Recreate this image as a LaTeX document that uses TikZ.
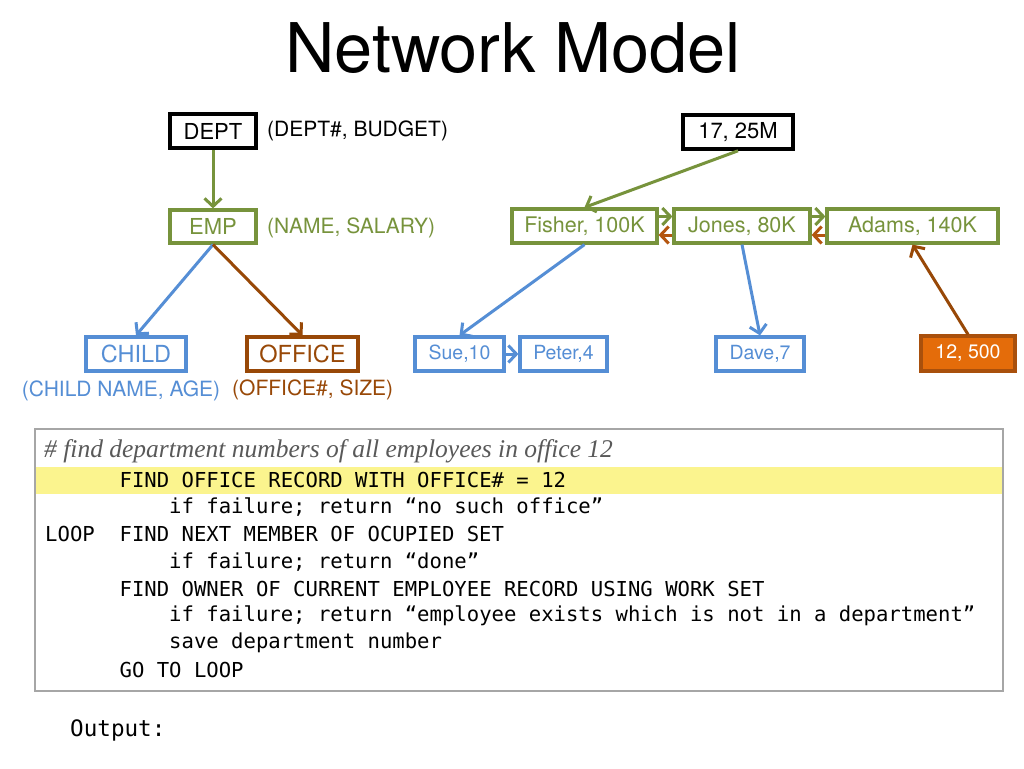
\documentclass[tikz,border=0pt]{standalone}
\usepackage{fontspec}
\setmainfont{TeX Gyre Heros}
\newfontfamily\codefont{DejaVu Sans Mono}
\newfontfamily\cmtfont{Liberation Serif}
\usetikzlibrary{arrows.meta}
\definecolor{olive}{HTML}{77933C}
\definecolor{sky}{HTML}{558ED5}
\definecolor{rust}{HTML}{984807}
\definecolor{rustl}{HTML}{B4550F}
\definecolor{orng}{HTML}{E46C0A}
\definecolor{orngb}{HTML}{A9500C}
\definecolor{hilite}{HTML}{FBF48E}
\definecolor{frame}{HTML}{A6A6A6}
\tikzset{
  rec/.style={draw, line width=3.2pt, inner sep=0pt, minimum height=34pt, font=\fontsize{22}{24}\selectfont},
  blk/.style={rec, draw=black, text=black, line width=3.6pt},
  grn/.style={rec, draw=olive, text=olive},
  blu/.style={rec, draw=sky, text=sky},
  bro/.style={rec, draw=rust, text=rust},
  small/.style={font=\fontsize{19.5}{22}\selectfont},
  attr/.style={inner sep=0pt, font=\fontsize{21}{24}\selectfont},
  con/.style={line width=3pt, -{Straight Barb[length=8pt,width=17pt]}},
  code/.style={inner sep=0pt, anchor=west, font=\codefont\fontsize{20.6}{24}\selectfont},
}
\begin{document}
\begin{tikzpicture}[x=1pt,y=-1pt]
\useasboundingbox (0,0) rectangle (1024,768);
\fill[white] (0,0) rectangle (1024,768);

\node[inner sep=0pt, font=\fontsize{68.5}{72}\selectfont] (title) at (513,48) {Network Model};

% schema side
\node[blk, minimum width=86pt] (dept) at (213,131) {DEPT};
\node[attr, anchor=west] (deptattr) at (267,131) {(DEPT\#, BUDGET)};
\node[grn, minimum width=86pt, minimum height=33pt] (emp) at (213,226.5) {EMP};
\node[attr, anchor=west, text=olive] (empattr) at (267,228) {(NAME, SALARY)};
\node[blu, minimum width=100pt, font=\fontsize{23.5}{26}\selectfont] (child) at (136,354) {CHILD};
\node[bro, minimum width=111pt, font=\fontsize{23.5}{26}\selectfont] (office) at (302.5,354) {OFFICE};
\node[attr, text=sky] (childattr) at (121,391) {(CHILD NAME, AGE)};
\node[attr, anchor=west, text=rust] (officeattr) at (232,390) {(OFFICE\#, SIZE)};

\draw[con, olive] (dept.south) -- (emp.north);
\draw[con, sky] (emp.south) -- (child.north);
\draw[con, rust] (emp.south) -- (office.north);

% instance side
\node[blk, minimum width=110pt] (k17) at (738,132) {17, 25M};
\node[grn, minimum width=145pt, font=\fontsize{21.5}{24}\selectfont] (fisher) at (584.5,226) {Fisher, 100K};
\node[grn, minimum width=136pt, font=\fontsize{21.5}{24}\selectfont] (jones) at (742,226) {Jones, 80K};
\node[grn, minimum width=171pt, font=\fontsize{21.5}{24}\selectfont] (adams) at (912.5,226) {Adams, 140K};
\node[blu, small, minimum width=89pt] (sue) at (459.5,354) {Sue,10};
\node[blu, small, minimum width=87pt] (peter) at (563.5,354) {Peter,4};
\node[blu, small, minimum width=88pt] (dave) at (760,354) {Dave,7};
\node[rec, small, draw=orngb, fill=orng, text=white, minimum width=94pt, minimum height=35pt] (k12) at (968,353.5) {12, 500};

\draw[con, olive] (k17.south) -- (fisher.north);
\draw[con, olive] ([yshift=9.5pt]fisher.east) -- ([yshift=9.5pt]jones.west);
\draw[con, rustl] ([yshift=-9pt]jones.west) -- ([yshift=-9pt]fisher.east);
\draw[con, olive] ([yshift=9.5pt]jones.east) -- ([yshift=9.5pt]adams.west);
\draw[con, rustl] ([yshift=-9pt]adams.west) -- ([yshift=-9pt]jones.east);
\draw[con, sky] (fisher.south) -- (sue.north);
\draw[con, sky] (sue.east) -- (peter.west);
\draw[con, sky] (jones.south) -- (dave.north);
\draw[con, rust] (k12.north) -- (adams.south);

% code block
\fill[hilite] (35,467) rectangle (1004,494);
\node[draw=frame, line width=1.6pt, minimum width=968pt, minimum height=262pt, inner sep=0pt] (codebox) at (519,560) {};
\node[inner sep=0pt, anchor=west, font=\cmtfont\itshape\fontsize{25.5}{27}\selectfont, text=black!65] (cmt) at (44,451) {\# find department numbers of all employees in office 12};
\node[code] (l1) at (45,480) {\phantom{LOOP\ \ }FIND OFFICE RECORD WITH OFFICE\# = 12};
\node[code] (l2) at (45,507.2) {\phantom{LOOP\ \ FIND}if failure; return “no such office”};
\node[code] (l3) at (45,534.4) {LOOP\ \ FIND NEXT MEMBER OF OCUPIED SET};
\node[code] (l4) at (45,561.6) {\phantom{LOOP\ \ FIND}if failure; return “done”};
\node[code] (l5) at (45,588.8) {\phantom{LOOP\ \ }FIND OWNER OF CURRENT EMPLOYEE RECORD USING WORK SET};
\node[code] (l6) at (45,616) {\phantom{LOOP\ \ FIND}if failure; return “employee exists which is not in a department”};
\node[code] (l7) at (45,643.2) {\phantom{LOOP\ \ FIND}save department number};
\node[code] (l8) at (45,670.4) {\phantom{LOOP\ \ }GO TO LOOP};

\node[code, font=\codefont\fontsize{22.6}{26}\selectfont] (out) at (70,730) {Output:};
\end{tikzpicture}
\end{document}
